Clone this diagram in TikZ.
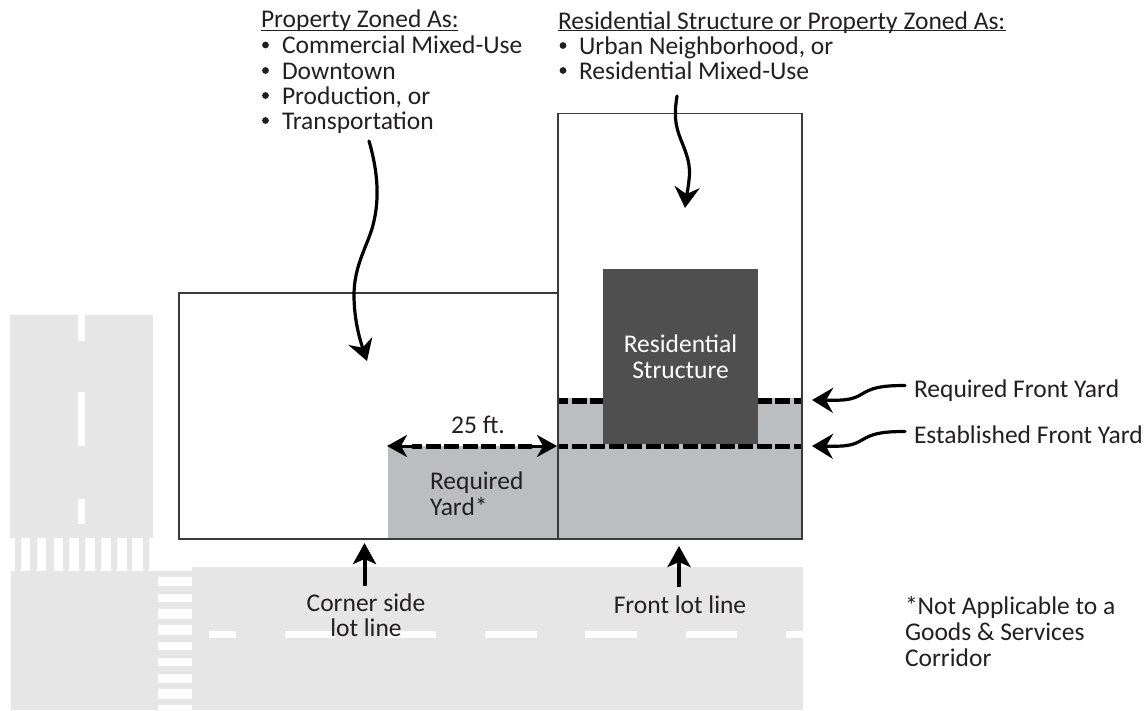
\documentclass[tikz,border=0pt]{standalone}
\usepackage{fontspec}
\setmainfont{Carlito}
\usetikzlibrary{arrows.meta}
\definecolor{roadgray}{HTML}{E6E6E6}
\definecolor{yardgray}{HTML}{BCBDBF}
\definecolor{structgray}{HTML}{4F4F4F}
\definecolor{inkc}{HTML}{231F20}
\definecolor{linec}{HTML}{3A3A3A}
\tikzset{
  lbl/.style={inner sep=0pt,outer sep=0pt,anchor=base west,text=inkc,font=\fontsize{25.5}{30}\selectfont},
  clbl/.style={lbl,anchor=base},
  wlbl/.style={clbl,text=white},
  road/.style={fill=roadgray,draw=none},
  paint/.style={fill=white,draw=none},
  lot/.style={draw=linec,line width=1.5pt,fill=none},
  bigtip/.tip={Stealth[length=21pt,width=25pt,inset=7pt]},
  curvy/.style={draw=black,line width=3.2pt,-{bigtip},line cap=round},
  straight/.style={draw=black,line width=4pt,-{Stealth[length=21pt,width=23pt,inset=5pt]}},
  dimline/.style={draw=black,line width=5pt,dash pattern=on 15pt off 3.5pt,dash phase=5pt},
  dimtip/.style={draw=black,line width=3pt,-{Stealth[length=20pt,width=22pt,inset=6pt]}},
  ulin/.style={draw=inkc,line width=1.3pt},
}
\begin{document}
\begin{tikzpicture}[x=1pt,y=-1pt]
\useasboundingbox (0,0) rectangle (1147,710);
% roads
\fill[road] (9.5,315) rectangle (153,538);
\fill[road] (15,538) rectangle (148.5,571);
\fill[road] (11,571) rectangle (192,710);
\fill[road] (192,567) rectangle (802.5,710);
\foreach \ya/\yb in {315/341,392/446,499/524}
  \fill[paint] (78,\ya) rectangle (85,\yb);
\foreach \xa/\xb in {21/30,37/46,54/63,69/79,85/95,101/111,117/127,132/143}
  \fill[paint] (\xa,538) rectangle (\xb,571);
\foreach \ya/\yb in {577/586,594/602,609/619,625/635,642/650,658/666,674/683,689/699,705/710}
  \fill[paint] (157.5,\ya) rectangle (192,\yb);
\foreach \xa/\xb in {209/236,285/335,385/436,485/537,585/637,686/737,786/802.5}
  \fill[paint] (\xa,631) rectangle (\xb,638);
% yards
\fill[yardgray] (387.5,446) rectangle (558,539);
\fill[yardgray] (558,398) rectangle (802,539);
% required front yard line, then structure, then established line
\coordinate (rfyL) at (558,400.5);
\coordinate (rfyR) at (802,400.5);
\coordinate (efyL) at (558,446);
\coordinate (efyR) at (802,446);
\draw[dimline,line width=6pt] (rfyL) -- (rfyR);
\node[fill=structgray,draw=none,minimum width=155pt,minimum height=175pt,inner sep=0pt,anchor=north west] (house) at (603,268.5) {};
\draw[dimline] (efyL) -- (efyR);
% lots
\coordinate (lotA) at (179,293);
\coordinate (lotB) at (558,539);
\coordinate (lotC) at (558,113.5);
\coordinate (lotD) at (802,539);
\draw[lot] (lotA) rectangle (lotB);
\draw[lot] (lotC) rectangle (lotD);
% 25 ft dimension
\coordinate (dimL) at (387,446);
\coordinate (dimR) at (557,446);
\coordinate (dimLn) at (412,446);
\coordinate (dimRn) at (532,446);
\draw[dimline] (dimLn) -- (dimRn);
\draw[dimtip] (dimLn) -- (dimL);
\draw[dimtip] (dimRn) -- (dimR);
% labels, top left
\node[lbl] (pz) at (261,27.5) {Property Zoned As:};
\draw[ulin] (261,30.5) -- (458,30.5);
\foreach \nm/\yy/\tx in {pza/53.5/Commercial Mixed-Use,pzb/79/Downtown,pzc/104/{Production, or},pzd/129/Transportation}{
  \node[lbl] (\nm) at (282,\yy) {\tx};
  \fill[inkc] (265.5,\yy-8.5) circle (3.4pt);
}
% labels, top right
\node[lbl] (rs) at (558,29) {Residential Structure or Property Zoned As:};
\draw[ulin] (558,30.5) -- (1006,30.5);
\foreach \nm/\yy/\tx in {rsa/54/{Urban Neighborhood, or},rsb/79/Residential Mixed-Use}{
  \node[lbl] (\nm) at (579,\yy) {\tx};
  \fill[inkc] (563,\yy-8.5) circle (3.4pt);
}
% curvy arrows
\coordinate (s1) at (369,141);
\coordinate (t1) at (367,361);
\draw[curvy] (s1) .. controls (376,165) and (381,195) .. (373,225)
  .. controls (368,245) and (354,265) .. (354,295)
  .. controls (354,320) and (360,340) .. (t1);
\coordinate (s2) at (677,96);
\coordinate (t2) at (685,208);
\draw[curvy] (s2) .. controls (674,115) and (675,125) .. (681,140)
  .. controls (687,155) and (691,165) .. (689,180) .. controls (688,190) and (686,198) .. (t2);
\coordinate (s3) at (905,385.5);
\coordinate (t3) at (812,400);
\draw[curvy] (s3) .. controls (880,385.5) and (872,388) .. (862,394) .. controls (852,400) and (845,400.5) .. (t3);
\coordinate (s4) at (905,431.5);
\coordinate (t4) at (812,446);
\draw[curvy] (s4) .. controls (880,431.5) and (872,434) .. (862,440) .. controls (852,446) and (845,446.5) .. (t4);
% straight arrows
\coordinate (u1a) at (364.5,586);
\coordinate (u1b) at (364.5,543);
\coordinate (u2a) at (679,587);
\coordinate (u2b) at (679,546);
\draw[straight] (u1a) -- (u1b);
\draw[straight] (u2a) -- (u2b);
% labels, side and bottom
\node[wlbl] (h1) at (680.5,352) {Residential};
\node[wlbl] (h2) at (680.5,378) {Structure};
\node[clbl] (ft) at (478,433) {25 ft.};
\node[lbl] (ry1) at (430,489) {Required};
\node[lbl] (ry2) at (430,515.5) {Yard*};
\node[clbl] (cs1) at (366,611) {Corner side};
\node[clbl] (cs2) at (366,636) {lot line};
\node[clbl] (fl) at (680,613) {Front lot line};
\node[lbl] (rf) at (914,397) {Required Front Yard};
\node[lbl] (ef) at (914,443) {Established Front Yard};
\node[lbl] (n1) at (905,614) {*Not Applicable to a};
\node[lbl] (n2) at (905,640) {Goods \& Services};
\node[lbl] (n3) at (905,666) {Corridor};
\end{tikzpicture}
\end{document}
